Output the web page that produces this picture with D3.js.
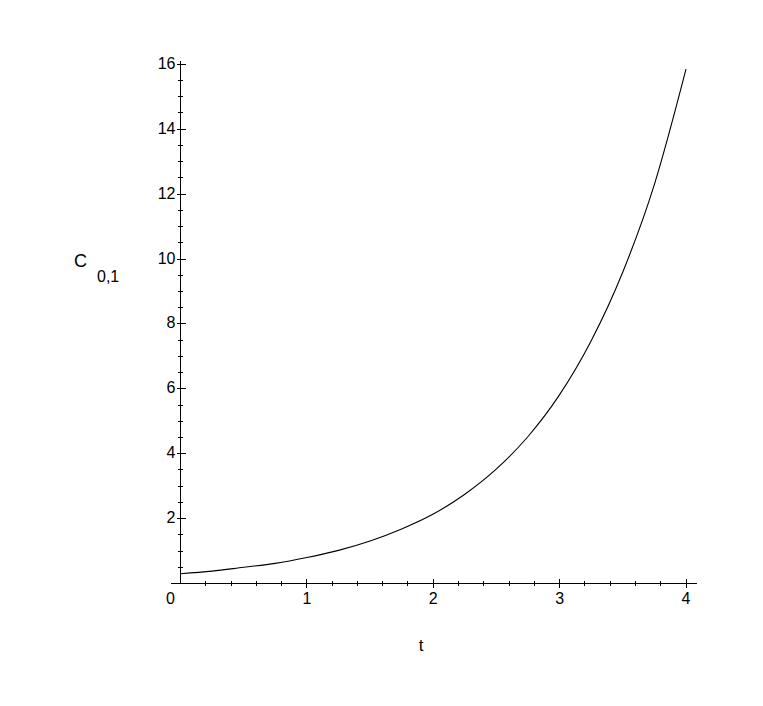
<!DOCTYPE html>
<html>
<head>
<meta charset="utf-8">
<script src="https://cdn.jsdelivr.net/npm/d3@7"></script>
<style>
  body { margin: 0; background: #fff; }
  svg { display: block; }
  text { font-family: "Liberation Sans", Arial, sans-serif; fill: #000; }
</style>
</head>
<body>
<svg id="chart" width="763" height="706"></svg>
<script>
// values
const tValues = [0, 0.25, 0.5, 0.75, 1, 1.25, 1.5, 1.75, 2, 2.25, 2.5, 2.75, 3, 3.25, 3.5, 3.75, 4];
const cValues = [0.30, 0.38, 0.50, 0.62, 0.80, 1.02, 1.31, 1.68, 2.14, 2.75, 3.53, 4.53, 5.82, 7.48, 9.60, 12.30, 15.85];
const xTicks = [0, 1, 2, 3, 4];
const yTicks = [2, 4, 6, 8, 10, 12, 14, 16];

const svg = d3.select("#chart");

const x = d3.scaleLinear().domain([0, 4]).range([180.5, 686]);
const y = d3.scaleLinear().domain([0, 16]).range([583.5, 64.3]);

const axes = svg.append("g").attr("stroke", "#000").attr("stroke-width", 1).attr("shape-rendering", "crispEdges");

// x axis
axes.append("line")
  .attr("x1", x(0) - 10).attr("x2", x(4) + 11)
  .attr("y1", y(0)).attr("y2", y(0));
// y axis
axes.append("line")
  .attr("x1", x(0)).attr("x2", x(0))
  .attr("y1", y(0)).attr("y2", y(16) - 3);

// minor ticks
const xMinor = d3.range(1, 21).map(i => i * 0.2).filter(v => Math.abs(v - Math.round(v)) > 1e-6);
axes.selectAll(".xminor")
  .data(xMinor)
  .join("line")
  .attr("x1", d => x(d)).attr("x2", d => x(d))
  .attr("y1", y(0) - 3).attr("y2", y(0) + 2);

const yMinor = d3.range(1, 33).map(i => i * 0.5).filter(v => v % 2 !== 0);
axes.selectAll(".yminor")
  .data(yMinor)
  .join("line")
  .attr("x1", x(0) - 2.5).attr("x2", x(0) + 2.5)
  .attr("y1", d => y(d)).attr("y2", d => y(d));

// major ticks
axes.selectAll(".xmajor")
  .data(xTicks.filter(d => d > 0))
  .join("line")
  .attr("x1", d => x(d)).attr("x2", d => x(d))
  .attr("y1", y(0) - 5).attr("y2", y(0) + 4);

axes.selectAll(".ymajor")
  .data(yTicks)
  .join("line")
  .attr("x1", x(0) - 4).attr("x2", x(0) + 5)
  .attr("y1", d => y(d)).attr("y2", d => y(d));

// tick labels
svg.append("g")
  .selectAll("text")
  .data(xTicks)
  .join("text")
  .attr("x", d => d === 0 ? x(d) - 10 : x(d))
  .attr("y", y(0) + 20)
  .attr("text-anchor", "middle")
  .attr("font-size", 16)
  .text(d => d);

svg.append("g")
  .selectAll("text")
  .data(yTicks)
  .join("text")
  .attr("x", x(0) - 5)
  .attr("y", d => y(d) + 4.5)
  .attr("text-anchor", "end")
  .attr("font-size", 16)
  .text(d => d);

// axis titles
svg.append("text")
  .attr("x", 421).attr("y", 651)
  .attr("text-anchor", "middle")
  .attr("font-size", 17)
  .text("t");

const yTitle = svg.append("text").attr("x", 74).attr("y", 267).attr("font-size", 18);
yTitle.append("tspan").text("C");
yTitle.append("tspan").attr("x", 97).attr("y", 282).attr("font-size", 16).text("0,1");

// curve
const line = d3.line()
  .x((d, i) => x(tValues[i]))
  .y(d => y(d))
  .curve(d3.curveMonotoneX);

svg.append("path")
  .datum(cValues)
  .attr("fill", "none")
  .attr("stroke", "#000")
  .attr("stroke-width", 1.1)
  .attr("d", line);
</script>
</body>
</html>
